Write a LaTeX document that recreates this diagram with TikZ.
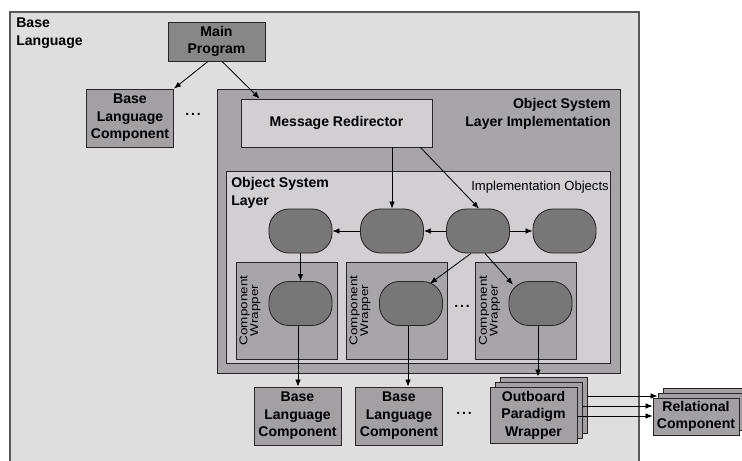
\documentclass[tikz,border=0pt]{standalone}
\usepackage{fontspec}
\setmainfont{Liberation Sans}
\newfontfamily\widefont[FakeStretch=1.2]{Liberation Sans}
\usetikzlibrary{arrows.meta,calc}

\definecolor{basefill}{HTML}{DEDEDE}
\definecolor{mainfill}{HTML}{878787}
\definecolor{compfill}{HTML}{A39FA3}
\definecolor{layerfill}{HTML}{A8A5A8}
\definecolor{lightfill}{HTML}{D2CED2}
\definecolor{objfill}{HTML}{777777}

\newcommand{\moredots}{.\kern1.3pt.\kern1.3pt.}

\tikzset{
  frame/.style={draw=black!65, line width=1.3pt, fill=basefill, minimum width=15.725cm, minimum height=11.75cm},
  title/.style={inner sep=0pt, font=\bfseries\fontsize{10}{12.5}\selectfont},
  plain/.style={inner sep=0pt, font=\fontsize{9.3}{11}\selectfont},
  box/.style={draw=black!85, line width=0.6pt, inner sep=0pt, align=center, font=\bfseries\fontsize{10}{12.5}\selectfont},
  compbox/.style={box, fill=compfill, minimum width=2.175cm, minimum height=1.45cm},
  obbox/.style={box, fill=compfill, minimum width=2.175cm, minimum height=1.4cm},
  relbox/.style={box, fill=compfill, minimum width=2.15cm, minimum height=0.925cm},
  obj/.style={draw=black!85, line width=0.6pt, fill=objfill, rounded corners=0.5cm, minimum width=1.575cm, minimum height=1.1cm},
  wrapper/.style={draw=black!85, line width=0.6pt, fill=layerfill, minimum width=2.525cm, minimum height=2.425cm},
  wraplbl/.style={rotate=90, inner sep=0pt, align=center, font=\widefont\fontsize{8}{7.6}\selectfont},
  dots/.style={anchor=base, inner sep=0pt, font=\bfseries\fontsize{10}{12}\selectfont},
  arr/.style={-{Latex[length=5pt,width=4pt]}, line width=0.6pt}
}

\begin{document}
\begin{tikzpicture}[x=0.025cm, y=-0.025cm]
\clip (0,0) rectangle (742,460);

% base language
\node[frame] (base) at (324.5,247) {};
\node[title, anchor=north west, align=left] (basetitle) at (16,18) {Base\\Language};

\node[box, fill=mainfill, minimum width=2.425cm, minimum height=0.975cm] (main) at (216.5,41.5) {Main\\Program};
\node[compbox] (blc0) at (130,118) {Base\\Language\\Component};
\node[dots] (dots0) at (193,115) {\moredots};

% object system layer implementation
\node[box, fill=layerfill, minimum width=10.075cm, minimum height=7.1cm] (osli) at (418.5,231) {};
\node[title, anchor=north east, align=right] (oslititle) at (611,98) {Object System\\Layer Implementation};
\node[box, fill=lightfill, minimum width=4.775cm, minimum height=1.2cm] (mr) at (336.5,123) {Message Redirector};

% object system layer
\node[box, fill=lightfill, minimum width=9.6cm, minimum height=4.8cm] (osl) at (418,267) {};
\node[title, anchor=north west, align=left] (osltitle) at (231,177) {Object System\\Layer};
\node[plain, anchor=north east] (impl) at (609,181) {Implementation Objects};

\foreach \n/\x in {1/300.5, 2/392, 3/478, 4/564.5}
  \node[obj] (obj\n) at (\x,231) {};

% component wrappers
\foreach \n/\x in {1/286.5, 2/396.5, 3/526} {
  \node[wrapper] (w\n) at (\x,310.5) {};
  \node[wraplbl] (wl\n) at ($(w\n.west)+(14.5,0)$) {Component\\Wrapper};
}
\foreach \n/\x in {5/300.5, 6/411, 7/540.5}
  \node[obj] (obj\n) at (\x,303.5) {};
\node[dots] (dots1) at (462,307) {\moredots};

% bottom row
\node[compbox] (blc1) at (297.5,416) {Base\\Language\\Component};
\node[compbox] (blc2) at (399,416) {Base\\Language\\Component};
\node[dots] (dots2) at (464,414) {\moredots};
\node[obbox] (ob3) at (543.5,405) {};
\node[obbox] (ob2) at (538.5,410) {};
\node[obbox] (ob1) at (533.5,415) {Outboard\\Paradigm\\Wrapper};
\node[relbox] (rel3) at (706,406.5) {};
\node[relbox] (rel2) at (701,411.5) {};
\node[relbox] (rel1) at (696,416.5) {Relational\\Component};

% connectors
\draw[arr] ($(main.south)+(-8.5,0)$) -- (blc0.north east);
\draw[arr] ($(main.south)+(5.5,0)$) -- ($(mr.north west)+(19,0)$);
\draw[arr] (obj2.north |- mr.south) -- (obj2.north);
\draw[arr] ($(mr.south east)+(-12,0)$) -- ($(obj3.north)+(1,0)$);
\draw[arr] (obj2.west) -- (obj1.east);
\draw[arr] (obj3.west) -- (obj2.east);
\draw[arr] (obj3.east) -- (obj4.west);
\draw[arr] (obj1.south) -- (obj5.north);
\draw[arr] ($(obj3.south)+(-7,0)$) -- ($(obj6.north)+(19,2.5)$);
\draw[arr] ($(obj3.south)+(7,0)$) -- ($(obj7.north)+(-27.5,3.5)$);
\draw[arr] ($(obj5.south)+(-2.5,0)$) coordinate (t5) -- (t5 |- blc1.north);
\draw[arr] ($(obj6.south)+(-3,0)$) coordinate (t6) -- (t6 |- blc2.north);
\draw[arr] ($(obj7.south)+(-2.5,0)$) coordinate (t7) -- (t7 |- ob3.north);

\coordinate (r1) at (0,396);
\coordinate (r2) at (0,406);
\coordinate (r3) at (0,416);
\draw[arr] (ob3.east |- r1) -- (rel2.west |- r1);
\draw[arr] (ob2.east |- r2) -- (rel1.west |- r2);
\draw[arr] (ob1.east |- r3) -- (rel1.west |- r3);
\end{tikzpicture}
\end{document}
